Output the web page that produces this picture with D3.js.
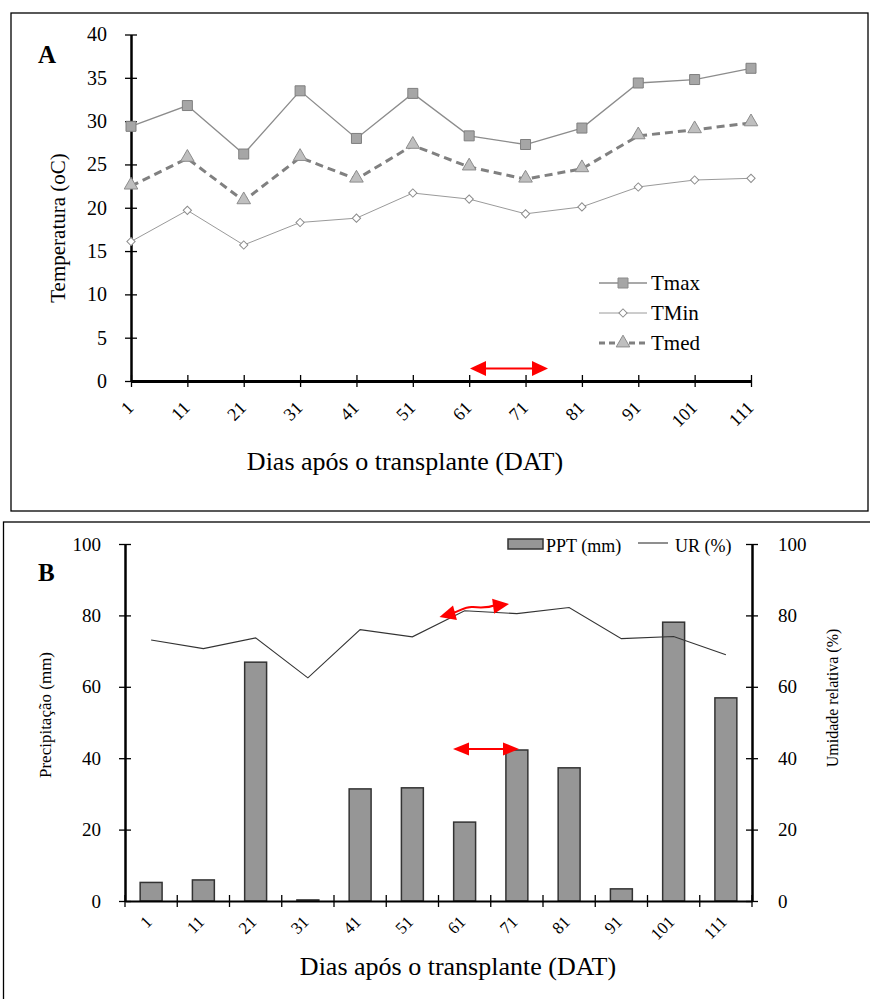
<!DOCTYPE html>
<html>
<head>
<meta charset="utf-8">
<script src="https://cdn.jsdelivr.net/npm/d3@7"></script>
<style>
  body { margin: 0; background: #fff; }
</style>
</head>
<body>
<div class="chart"></div>
<script>
// dias apos o transplante
var days = ["1", "11", "21", "31", "41", "51", "61", "71", "81", "91", "101", "111"];
// temperaturas (oC)
var tmax = [29.4, 31.8, 26.2, 33.5, 28.0, 33.2, 28.3, 27.3, 29.2, 34.4, 34.8, 36.1];
var tmin = [16.1, 19.7, 15.7, 18.3, 18.8, 21.7, 21.0, 19.3, 20.1, 22.4, 23.2, 23.4];
var tmed = [22.5, 25.7, 20.8, 25.8, 23.3, 27.2, 24.7, 23.3, 24.5, 28.3, 29.0, 29.8];
// precipitacao (mm) e umidade relativa (%)
var ppt = [5.2, 5.9, 66.9, 0.3, 31.4, 31.7, 22.1, 42.3, 37.3, 3.4, 78.1, 56.9];
var ur = [73.1, 70.7, 73.7, 62.5, 76.0, 74.0, 81.3, 80.5, 82.2, 73.5, 74.1, 69.0];
var tempTicks = [0, 5, 10, 15, 20, 25, 30, 35, 40];
var pctTicks = [0, 20, 40, 60, 80, 100];

var serif = '"Liberation Serif", "Times New Roman", Times, serif';

var svg = d3.select('.chart')
    .append('svg')
    .attr('width', 870)
    .attr('height', 999)
    .attr('font-family', serif);

// molduras
svg.append('rect').attr('x', 11).attr('y', 13).attr('width', 857).attr('height', 498)
    .attr('fill', 'none').attr('stroke', '#000').attr('stroke-width', 1.3);
svg.append('rect').attr('x', 3.5).attr('y', 522).attr('width', 880).attr('height', 490)
    .attr('fill', 'none').attr('stroke', '#000').attr('stroke-width', 1.3);

function crossTicks(g, horizontal) {
    g.selectAll('.tick line')
        .attr(horizontal ? 'y1' : 'x1', -6)
        .attr(horizontal ? 'y2' : 'x2', 6)
        .attr('stroke', '#000').attr('stroke-width', 1.3);
    g.select('.domain').attr('stroke', '#000');
}

function arrowHead(g, tipX, tipY, angle, len, half) {
    // angle = direccion del trazo (grados)
    g.append('path')
        .attr('d', 'M0,0 L' + (-len) + ',' + (-half) + ' L' + (-len) + ',' + half + ' Z')
        .attr('transform', 'translate(' + tipX + ',' + tipY + ') rotate(' + angle + ')')
        .attr('fill', '#ff0000');
}

// ================= A =================
var xA = d3.scalePoint().domain(days).range([131, 751]);
var yA = d3.scaleLinear().domain([0, 40]).range([381, 34.5]);

var gA = svg.append('g');

var yAxisA = gA.append('g')
    .attr('transform', 'translate(131,0)')
    .call(d3.axisLeft(yA).tickValues(tempTicks).tickSizeOuter(0).tickPadding(18));
crossTicks(yAxisA, false);
yAxisA.select('.domain').attr('stroke-width', 2.5);
yAxisA.selectAll('text').style('font-size', '20px');

var xAxisA = gA.append('g')
    .attr('transform', 'translate(0,381)')
    .call(d3.axisBottom(xA).tickSizeOuter(0));
crossTicks(xAxisA, true);
xAxisA.select('.domain').attr('stroke-width', 3);
xAxisA.selectAll('text')
    .attr('y', 0).attr('dy', 0)
    .attr('transform', 'translate(3,28) rotate(-45)')
    .attr('text-anchor', 'end')
    .style('font-size', '18px');

// linhas
var lineA = function(vals) {
    return d3.line().x(function(d, i) { return xA(days[i]); }).y(function(d) { return yA(d); })(vals);
};

gA.append('path').attr('d', lineA(tmax))
    .attr('fill', 'none').attr('stroke', '#8c8c8c').attr('stroke-width', 1.3);
gA.append('path').attr('d', lineA(tmin))
    .attr('fill', 'none').attr('stroke', '#9a9a9a').attr('stroke-width', 1);
gA.append('path').attr('d', lineA(tmed))
    .attr('fill', 'none').attr('stroke', '#808080').attr('stroke-width', 3)
    .attr('stroke-dasharray', '8,5');

var sq = d3.symbol().type(d3.symbolSquare).size(100);
var dia = d3.symbol().type(d3.symbolSquare).size(34);
var tri = d3.symbol().type(d3.symbolTriangle).size(80);

gA.selectAll('.pmax').data(tmax).enter().append('path')
    .attr('d', sq)
    .attr('transform', function(d, i) { return 'translate(' + xA(days[i]) + ',' + yA(d) + ')'; })
    .attr('fill', '#a6a6a6').attr('stroke', '#7f7f7f').attr('stroke-width', 1);
gA.selectAll('.pmin').data(tmin).enter().append('path')
    .attr('d', dia)
    .attr('transform', function(d, i) { return 'translate(' + xA(days[i]) + ',' + yA(d) + ') rotate(45)'; })
    .attr('fill', '#fff').attr('stroke', '#8c8c8c').attr('stroke-width', 1);
gA.selectAll('.pmed').data(tmed).enter().append('path')
    .attr('d', tri)
    .attr('transform', function(d, i) { return 'translate(' + xA(days[i]) + ',' + (yA(d) - 1) + ')'; })
    .attr('fill', '#bfbfbf').attr('stroke', '#8c8c8c').attr('stroke-width', 1);

// legenda A
var legA = [
    { name: 'Tmax', y: 283, sym: sq, rot: 0, fill: '#a6a6a6', stroke: '#8c8c8c', w: 1.3, dash: null },
    { name: 'TMin', y: 313, sym: dia, rot: 45, fill: '#fff', stroke: '#9a9a9a', w: 1, dash: null },
    { name: 'Tmed', y: 343, sym: tri, rot: 0, fill: '#bfbfbf', stroke: '#808080', w: 3, dash: '6,4' }
];
legA.forEach(function(l) {
    gA.append('line').attr('x1', 599).attr('x2', 647).attr('y1', l.y).attr('y2', l.y)
        .attr('stroke', l.stroke).attr('stroke-width', l.w).attr('stroke-dasharray', l.dash);
    gA.append('path').attr('d', l.sym)
        .attr('transform', 'translate(623,' + l.y + ') rotate(' + l.rot + ')')
        .attr('fill', l.fill).attr('stroke', '#8c8c8c').attr('stroke-width', 1);
    gA.append('text').attr('x', 651).attr('y', l.y + 7).text(l.name).style('font-size', '21px');
});

// seta vermelha A
gA.append('line').attr('x1', 480).attr('x2', 538).attr('y1', 368.5).attr('y2', 368.5)
    .attr('stroke', '#ff0000').attr('stroke-width', 2);
arrowHead(gA, 470, 368.5, 180, 16, 7.5);
arrowHead(gA, 548, 368.5, 0, 16, 7.5);

gA.append('text').attr('x', 38).attr('y', 63).text('A')
    .style('font-size', '25px').style('font-weight', 'bold');
gA.append('text').attr('transform', 'translate(65,228) rotate(-90)')
    .attr('text-anchor', 'middle').text('Temperatura (oC)').style('font-size', '21px');
gA.append('text').attr('x', 405).attr('y', 470).attr('text-anchor', 'middle')
    .text('Dias após o transplante (DAT)').style('font-size', '26px');

// ================= B =================
var xB = d3.scaleBand().domain(days).range([125, 752]).padding(0);
var yB = d3.scaleLinear().domain([0, 100]).range([901, 544]);
var gB = svg.append('g');

// barras
gB.selectAll('.bar').data(ppt).enter().append('rect')
    .attr('x', function(d, i) { return xB(days[i]) + xB.bandwidth() * 0.29; })
    .attr('width', xB.bandwidth() * 0.42)
    .attr('y', function(d) { return yB(d); })
    .attr('height', function(d) { return yB(0) - yB(d); })
    .attr('fill', '#969696').attr('stroke', '#333').attr('stroke-width', 1.5);

// UR
gB.append('path')
    .attr('d', d3.line()
        .x(function(d, i) { return xB(days[i]) + xB.bandwidth() / 2; })
        .y(function(d) { return yB(d); })(ur))
    .attr('fill', 'none').attr('stroke', '#333').attr('stroke-width', 1.1);

var yAxisB = gB.append('g').attr('transform', 'translate(125,0)')
    .call(d3.axisLeft(yB).tickValues(pctTicks).tickSizeOuter(0).tickPadding(18));
crossTicks(yAxisB, false);
yAxisB.select('.domain').attr('stroke-width', 2.5);
yAxisB.selectAll('text').style('font-size', '19px');

var yAxisB2 = gB.append('g').attr('transform', 'translate(752,0)')
    .call(d3.axisRight(yB).tickValues(pctTicks).tickSizeOuter(0).tickPadding(20));
crossTicks(yAxisB2, false);
yAxisB2.select('.domain').attr('stroke-width', 2.5);
yAxisB2.selectAll('text').style('font-size', '19px');

var xAxisB = gB.append('g').attr('transform', 'translate(0,901)')
    .call(d3.axisBottom(xB).tickSize(0).tickSizeOuter(0));
xAxisB.select('.domain').attr('stroke', '#000').attr('stroke-width', 2);
xAxisB.selectAll('text')
    .attr('y', 0).attr('dy', 0)
    .attr('transform', 'translate(2,22) rotate(-45)')
    .attr('text-anchor', 'end')
    .style('font-size', '17px');
// marcas entre categorias
var bounds = days.map(function(d) { return xB(d); }).concat([xB.range()[1]]);
xAxisB.selectAll('.sep').data(bounds).enter().append('line')
    .attr('x1', function(d) { return d; }).attr('x2', function(d) { return d; })
    .attr('y1', -6).attr('y2', 6)
    .attr('stroke', '#000').attr('stroke-width', 1.3);

// legenda B
gB.append('rect').attr('x', 508).attr('y', 539).attr('width', 35).attr('height', 10)
    .attr('fill', '#969696').attr('stroke', '#333').attr('stroke-width', 1.5);
gB.append('text').attr('x', 546).attr('y', 552).text('PPT (mm)').style('font-size', '18px');
gB.append('line').attr('x1', 638).attr('x2', 668).attr('y1', 543).attr('y2', 543)
    .attr('stroke', '#333').attr('stroke-width', 1.1);
gB.append('text').attr('x', 675).attr('y', 552).text('UR (%)').style('font-size', '18px');

// setas vermelhas B
gB.append('line').attr('x1', 465).attr('x2', 507).attr('y1', 749).attr('y2', 749)
    .attr('stroke', '#ff0000').attr('stroke-width', 2);
arrowHead(gB, 453, 749, 180, 16, 6.5);
arrowHead(gB, 519, 749, 0, 16, 6.5);

gB.append('path')
    .attr('d', 'M452,613 C460,612 464,606 473,607 S488,608 496,605')
    .attr('fill', 'none').attr('stroke', '#ff0000').attr('stroke-width', 2);
arrowHead(gB, 439.5, 617, 165, 16, 7.5);
arrowHead(gB, 509, 604, -8, 16, 7.5);

gB.append('text').attr('x', 38).attr('y', 581).text('B')
    .style('font-size', '25px').style('font-weight', 'bold');
gB.append('text').attr('transform', 'translate(51,715) rotate(-90)')
    .attr('text-anchor', 'middle').text('Precipitação (mm)').style('font-size', '17px');
gB.append('text').attr('transform', 'translate(838,698) rotate(-90)')
    .attr('text-anchor', 'middle').text('Umidade relativa (%)').style('font-size', '16px');
gB.append('text').attr('x', 458).attr('y', 975).attr('text-anchor', 'middle')
    .text('Dias após o transplante (DAT)').style('font-size', '26px');

// todas as letras em serif
svg.selectAll('text').style('font-family', serif).attr('fill', '#000');
</script>
</body>
</html>
